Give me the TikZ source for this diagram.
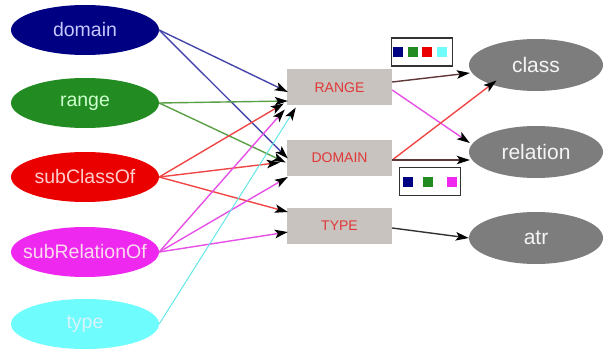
\documentclass[tikz,border=0pt]{standalone}
\usepackage{fontspec}
\setmainfont{Liberation Sans}
\usetikzlibrary{shapes.geometric,arrows.meta,calc}
\definecolor{cDom}{RGB}{0,0,130}
\definecolor{cRan}{RGB}{34,139,34}
\definecolor{cSub}{RGB}{235,0,0}
\definecolor{cSrel}{RGB}{238,40,238}
\definecolor{cTyp}{RGB}{110,252,252}
\definecolor{cGray}{RGB}{125,125,125}
\definecolor{cBox}{RGB}{200,195,190}
\definecolor{cBoxTxt}{RGB}{225,55,55}
\definecolor{eDom}{RGB}{70,70,170}
\definecolor{eRan}{RGB}{90,160,70}
\definecolor{eSub}{RGB}{240,70,70}
\definecolor{eSrel}{RGB}{230,80,230}
\definecolor{eTyp}{RGB}{100,230,230}
\definecolor{eDark}{RGB}{95,55,55}
\definecolor{eBlk}{RGB}{50,50,50}
\definecolor{cLeg}{RGB}{50,50,50}
\tikzset{
  lell/.style={ellipse, minimum width=148pt, minimum height=50pt, inner sep=0pt},
  ltxt/.style={font=\fontsize{19.5}{19.5}\selectfont, inner sep=0pt},
  rell/.style={ellipse, minimum width=134pt, minimum height=52pt, inner sep=0pt, fill=cGray, text=white!92!gray, font=\fontsize{21}{21}\selectfont},
  mbox/.style={rectangle, minimum width=105pt, minimum height=36pt, inner sep=0pt, fill=cBox, text=cBoxTxt, font=\fontsize{14}{14}\selectfont},
  edge/.style={line width=1.4pt, -{Stealth[length=13pt,width=8.5pt,inset=3pt,color=black]}},
  legbox/.style={draw=cLeg, line width=1.8pt, fill=white, minimum width=61pt, minimum height=28pt, inner sep=0pt},
  sq/.style={minimum width=10pt, minimum height=10pt, inner sep=0pt}
}
\begin{document}
\begin{tikzpicture}[x=1pt,y=-1pt]
\useasboundingbox (0,0) rectangle (604,350);
% left ellipses
\node[lell, fill=cDom, label={[ltxt, text=white!78!blue]center:domain}] (dom) at (85,30) {};
\node[lell, fill=cRan, label={[ltxt, text=white!80!green]center:range}] (ran) at (85,103) {};
\node[lell, fill=cSub, label={[ltxt, text=white!80!red]center:subClassOf}] (sub) at (85,177) {};
\node[lell, fill=cSrel, label={[ltxt, text=white!85!magenta]center:subRelationOf}] (srel) at (85,252) {};
\node[lell, fill=cTyp, label={[ltxt, text=white!85!cyan]center:type}] (typ) at (85,324) {};
% middle boxes
\node[mbox] (R) at (339.5,87.5) {RANGE};
\node[mbox] (D) at (339.5,157.5) {DOMAIN};
\node[mbox] (T) at (339.5,226) {TYPE};
% right ellipses
\node[rell] (cls) at (536,65) {class};
\node[rell] (rel) at (536,152) {relation};
\node[rell] (atr) at (536,238) {atr};
% legends
\node[legbox] (leg1) at (422,52) {};
\node[sq, fill=cDom] (l1a) at (398,52) {};
\node[sq, fill=cRan] (l1b) at (412.5,52) {};
\node[sq, fill=cSub] (l1c) at (426.5,52) {};
\node[sq, fill=cTyp] (l1d) at (441.5,52) {};
\node[legbox] (leg2) at (430,181.5) {};
\node[sq, fill=cDom] (l2a) at (408,182) {};
\node[sq, fill=cRan] (l2b) at (428,182) {};
\node[sq, fill=cSrel] (l2c) at (451.5,182) {};
% left edges
\draw[edge, eDom] (dom.east) -- ($(R.west)+(1,4.5)$);
\draw[edge, eDom] (dom.east) -- ($(D.west)+(1,1)$);
\draw[edge, eRan] (ran.east) -- ($(R.west)+(1,13.5)$);
\draw[edge, eRan] (ran.east) -- ($(D.west)+(-1,5)$);
\draw[edge, eSub] (sub.east) -- ($(R.west)+(-3,16)$);
\draw[edge, eSub] (sub.east) -- ($(D.west)+(-7,5)$);
\draw[edge, eSub] (sub.east) -- ($(T.west)+(1,-14)$);
\draw[edge, eSrel] (srel.east) -- ($(R.west)+(-2,22)$);
\draw[edge, eSrel] (srel.east) -- ($(D.west)+(1,19.5)$);
\draw[edge, eSrel] (srel.east) -- ($(T.west)+(1,6)$);
\draw[edge, eTyp, line width=1pt] (typ.east) -- ($(R.west)+(9,20)$);
% right edges
\draw[edge, eDark] ($(R.east)+(0,-5.5)$) -- ($(cls.west)+(1,8)$);
\draw[edge, eSrel] ($(R.east)+(0,2.5)$) -- ($(rel.west)+(1,-9)$);
\draw[edge, eSub] ($(D.east)+(0,2.5)$) -- ($(cls.south west)+(8,-3)$);
\draw[edge, eDark] ($(D.east)+(0,2.5)$) -- ($(rel.west)+(1,8)$);
\draw[edge, eBlk] ($(T.east)+(0,2)$) -- (atr.west);
\end{tikzpicture}
\end{document}
